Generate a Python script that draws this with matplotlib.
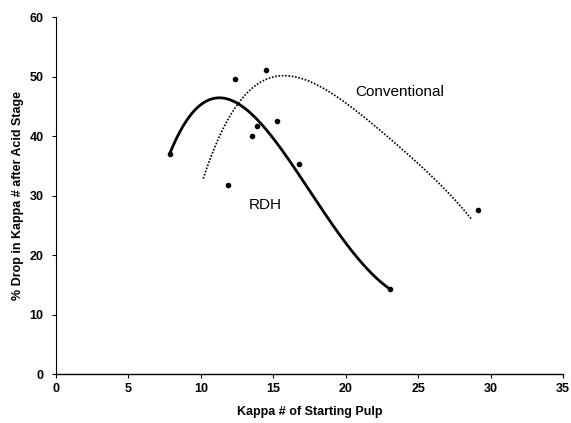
import numpy as np
import matplotlib
matplotlib.use("Agg")
import matplotlib.pyplot as plt

# Scatter data points
pts_x = [7.87, 11.9, 12.33, 13.5, 13.87, 14.47, 15.25, 16.75, 23.05, 29.12]
pts_y = [37.1, 31.9, 49.7, 40.0, 41.7, 51.1, 42.6, 35.3, 14.3, 27.7]

# RDH trend curve
rdh_x = [7.87, 8.5, 9.94, 11.43, 12.47, 13.5, 15.46, 16.84, 19.12, 21.2, 23.05]
rdh_y = [37.1, 40.5, 45.6, 46.3, 45.5, 43.5, 38.3, 33.8, 24.5, 18.7, 14.3]

# Conventional trend curve
conv_x = [10.17, 11.32, 12.24, 13.5, 15.46, 17.99, 20.29, 22.59, 24.89, 27.19, 28.69]
conv_y = [33.0, 39.9, 44.4, 48.2, 50.2, 48.3, 45.5, 40.5, 35.5, 30.4, 26.0]

xticks = [0, 5, 10, 15, 20, 25, 30, 35]
yticks = [0, 10, 20, 30, 40, 50, 60]

plt.rcParams['font.family'] = ['Liberation Sans', 'DejaVu Sans']

fig = plt.figure(figsize=(5.71, 4.23), dpi=100)
ax = fig.add_axes([0.098, 0.115, 0.888, 0.844])

def smooth(xs, ys, deg):
    c = np.polyfit(xs, ys, deg)
    xx = np.linspace(min(xs), max(xs), 200)
    return xx, np.polyval(c, xx)

xr, yr = smooth(rdh_x, rdh_y, 4)
ax.plot(xr, yr, color='black', lw=2.0, solid_capstyle='round')
xc, yc = smooth(conv_x, conv_y, 4)
ax.plot(xc, yc, color='black', lw=1.2, linestyle=(0, (1, 1)))

ax.scatter(pts_x, pts_y, s=9, color='black', zorder=3)

ax.text(23.74, 47.4, 'Conventional', fontsize=11, ha='center', va='center')
ax.text(14.47, 28.4, 'RDH', fontsize=11, ha='center', va='center')

ax.set_xlim(0, 35)
ax.set_ylim(0, 60)
ax.set_xticks(xticks)
ax.set_yticks(yticks)
ax.set_xticklabels([str(t) for t in xticks], fontsize=9, fontweight='bold')
ax.set_yticklabels([str(t) for t in yticks], fontsize=9, fontweight='bold')
ax.tick_params(axis='x', direction='out', length=3, width=0.8, pad=3)
ax.tick_params(axis='y', direction='out', length=3, width=0.8, pad=6)
ax.spines['top'].set_visible(False)
ax.spines['right'].set_visible(False)
ax.spines['left'].set_linewidth(0.8)
ax.spines['bottom'].set_linewidth(1.0)
ax.set_xlabel('Kappa # of Starting Pulp', fontsize=9, fontweight='bold', labelpad=8)
ax.set_ylabel('% Drop in Kappa # after Acid Stage', fontsize=9, fontweight='bold', labelpad=4)

fig.savefig('out.png', dpi=100)
